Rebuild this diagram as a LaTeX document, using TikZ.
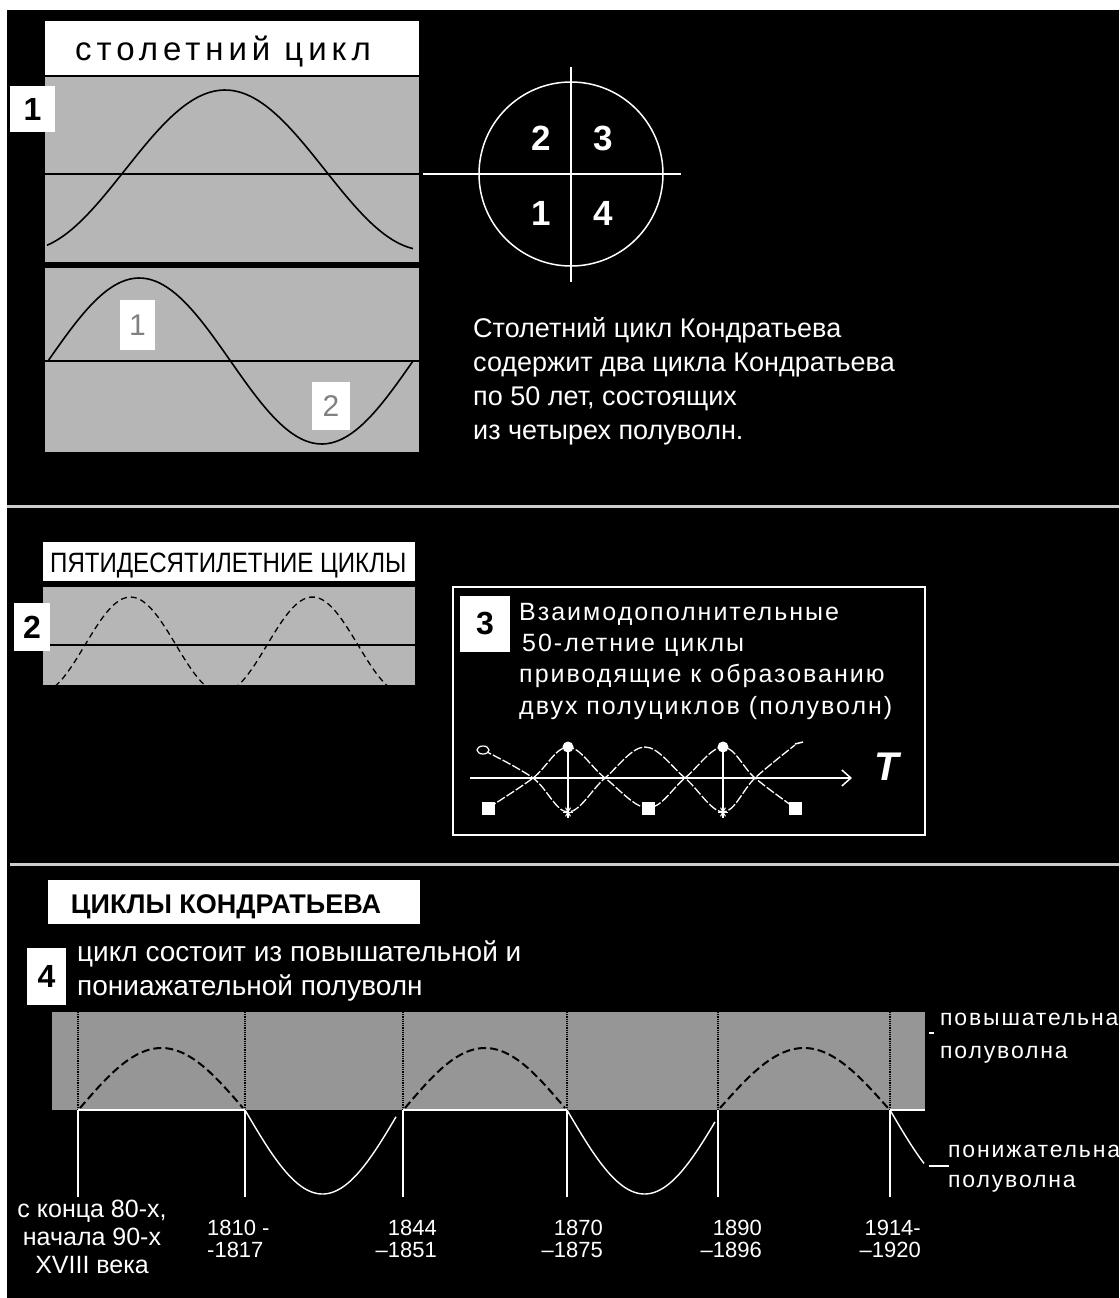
\documentclass[tikz,border=0pt]{standalone}
\usepackage{fontspec}
\setmainfont{Liberation Sans}
\newfontfamily\widefont[LetterSpace=8]{Liberation Sans}
\newfontfamily\spacedfont[LetterSpace=15]{Liberation Sans}
\newfontfamily\narrowfont[FakeStretch=0.86]{Liberation Sans}
\usepackage{tikz}
\usetikzlibrary{arrows.meta}
\definecolor{dotgray}{RGB}{182,182,182}
\definecolor{dotdark}{RGB}{150,150,150}
\definecolor{rulegray}{RGB}{205,205,205}

\begin{document}
\begin{tikzpicture}[x=1pt, y=-1pt,
    whitetxt/.style={text=white, inner sep=0pt},
    numbox/.style={fill=white, text=black, inner sep=0pt, font=\bfseries\fontsize{32}{32}\selectfont},
    hidbox/.style={fill=white, text=gray, inner sep=0pt, font=\fontsize{30}{30}\selectfont},
    wave/.style={black, line width=1.6},
    halfwave/.style={white, line width=1.4}]
    % Background
    \useasboundingbox (0,0) rectangle (1119,1298);
    \fill[white] (0,0) rectangle (1119,1298);
    \fill[black] (7,10) rectangle (1119,1298);

    % Panel 1: hundred-year cycle
    \fill[white] (45,21) rectangle (419,75);
    \node[anchor=base west, inner sep=0pt, font=\spacedfont\fontsize{33}{33}\selectfont] (title1) at (75,60) {столетний цикл};
    \fill[dotgray] (45,77) rectangle (419,262);
    \draw[black, line width=1.5] (45,174) -- (419,174);
    \draw[wave] plot[domain=47:413, samples=90, smooth] (\x, {170-80*cos(0.9*(\x-225))});
    \fill[dotgray] (45,268) rectangle (419,452);
    \draw[black, line width=1.5] (45,361) -- (419,361);
    \draw[wave] plot[domain=48:413, samples=90, smooth] (\x, {361-83*sin(0.9863*(\x-48))});
    \node[hidbox, minimum width=35, minimum height=50] (half1) at (137.5,325) {1};
    \node[hidbox, minimum width=38, minimum height=48] (half2) at (331,406) {2};
    \node[numbox, minimum width=45, minimum height=46] (num1) at (32.5,109) {1};

    % Circle of four half-waves
    \draw[white, line width=1.5] (571,174) circle[radius=92pt];
    \draw[white, line width=1.5] (423,174) -- (681,174);
    \draw[white, line width=1.5] (571,67) -- (571,282);
    \foreach \qx/\qy/\qn in {541/138/2, 603/138/3, 541/213/1, 603/213/4}
      \node[whitetxt, font=\bfseries\fontsize{35}{35}\selectfont] (q\qn) at (\qx,\qy) {\qn};
    \node[whitetxt, anchor=base west, align=left, font=\fontsize{27}{33.7}\selectfont] (desc1) at (473,439)
      {Столетний цикл Кондратьева\\содержит два цикла Кондратьева\\по 50 лет, состоящих\\из четырех полуволн.};

    \draw[rulegray, line width=3] (7,506) -- (1119,506);

    % Panel 2: fifty-year cycles
    \fill[white] (43,542) rectangle (415,581);
    \node[anchor=base west, inner sep=0pt, font=\narrowfont\fontsize{28}{28}\selectfont] (title2) at (50,572) {ПЯТИДЕСЯТИЛЕТНИЕ ЦИКЛЫ};
    \fill[dotgray] (43,587) rectangle (415,685);
    \draw[black, line width=1.5] (50,645) -- (415,645);
    \begin{scope}
      \clip (43,587) rectangle (415,685);
      \draw[black, line width=1.3, dash pattern=on 6pt off 4pt] plot[domain=55:410, samples=90, smooth] (\x, {645-48*sin(1.978*(\x-85))});
    \end{scope}
    \node[numbox, minimum width=36, minimum height=48] (num2) at (32,627) {2};

    % Panel 3: complementary cycles
    \draw[white, line width=1.5] (453,587) rectangle (925,835);
    \node[numbox, minimum width=50, minimum height=56] (num3) at (485,624) {3};
    \node[whitetxt, anchor=base west, align=left, font=\widefont\fontsize{25}{31.3}\selectfont] (desc3) at (519,714)
      {Взаимодополнительные\\\hspace{3pt}50-летние циклы\\приводящие к образованию\\двух полуциклов (полуволн)};
    \draw[white, line width=1.5, -{Straight Barb[length=9pt, width=16pt]}] (470,778) -- (852,778);
    \node[whitetxt, font=\bfseries\itshape\fontsize{40}{40}\selectfont] (tlabel) at (887,767) {T};
    \draw[white, line width=1.5] (568,743) -- (568,818);
    \draw[white, line width=1.5] (723,743) -- (723,818);
    \draw[white, line width=1.3, dash pattern=on 9pt off 2pt] plot[smooth, tension=0.6] coordinates
      {(483,750) (533,778) (568,812) (605,778) (645,747) (685,778) (723,812) (755,778) (795,745)};
    \draw[white, line width=1.3, dash pattern=on 9pt off 2pt] plot[smooth, tension=0.6] coordinates
      {(488,808) (533,778) (568,747) (605,778) (648,808) (685,778) (723,747) (755,778) (795,808)};
    \fill[white] (568,747) circle[radius=5.5pt];
    \fill[white] (723,747) circle[radius=5.5pt];
    \fill[black] (483,750) ellipse[x radius=6pt, y radius=4pt];
    \draw[white, line width=1.2] (483,750) ellipse[x radius=6pt, y radius=4pt];
    \draw[white, line width=1.5] (795,744) -- (803,742);
    \foreach \sx in {488,648,795}
      \fill[white] ({\sx-6.5},801.5) rectangle ++(13,13);
    \foreach \ax in {568,723}
      \foreach \ang in {0,60,120}
        \draw[white, line width=1] (\ax,812) ++(\ang:5) -- ++(\ang+180:10);

    \draw[rulegray, line width=3] (10,864) -- (1119,864);

    % Panel 4: Kondratiev cycles
    \fill[white] (48,880) rectangle (420,924);
    \node[anchor=base, inner sep=0pt, font=\bfseries\fontsize{27}{27}\selectfont] (title4) at (226,913) {ЦИКЛЫ КОНДРАТЬЕВА};
    \node[numbox, minimum width=39, minimum height=57] (num4) at (46.5,976.5) {4};
    \node[whitetxt, anchor=base west, align=left, font=\fontsize{28}{34}\selectfont] (desc4) at (77,995)
      {цикл состоит из повышательной и\\пониажательной полуволн};
    \fill[dotdark] (52,1012) rectangle (925,1110);
    \foreach \vx in {78,245,403,567,718,890} {
      \draw[black, line width=1.2, densely dotted] (\vx,1012) -- (\vx,1110);
      \draw[white, line width=1.5] (\vx,1110) -- (\vx,1197);
    }
    \draw[white, line width=1.5] (78,1110) -- (245,1110);
    \draw[white, line width=1.5] (403,1110) -- (567,1110);
    \draw[white, line width=1.5] (890,1110) -- (925,1110);
    % rising half-waves
    \foreach \ua/\ub in {80/243, 405/565, 720/888}
      \draw[black, line width=2, dash pattern=on 8pt off 4pt] plot[domain=\ua:\ub, samples=60, smooth] (\x, {1108-60*sin(180/(\ub-\ua)*(\x-\ua))});
    % falling half-waves
    \draw[halfwave] plot[domain=245:396, samples=60, smooth] (\x, {1110+84*sin(1.1613*(\x-245))});
    \draw[halfwave] plot[domain=567:715, samples=60, smooth] (\x, {1110+84*sin(1.1613*(\x-567))});
    \draw[halfwave] plot[domain=890:924, samples=20, smooth] (\x, {1110+84*sin(1.1613*(\x-890))});
    \draw[white, line width=1.5] (929,1166) -- (949,1166);
    \draw[white, line width=1.5] (929,1033) -- (934,1033);
    \node[whitetxt, anchor=base west, align=left, font=\widefont\fontsize{23}{33}\selectfont] (uplab) at (940,1058) {повышательна\\полуволна};
    \node[whitetxt, anchor=base west, align=left, font=\widefont\fontsize{23}{30}\selectfont] (downlab) at (948,1187) {понижательна\\полуволна};

    % dates
    \node[whitetxt, anchor=base, align=center, font=\fontsize{25}{28}\selectfont] (d0) at (92,1273) {с конца 80-х,\\начала 90-х\\XVIII века};
    \node[whitetxt, anchor=base west, align=left, font=\fontsize{22}{22}\selectfont] (d1) at (207,1257) {1810 -\\-1817};
    \node[whitetxt, anchor=base east, align=right, font=\fontsize{22}{22}\selectfont] (d2) at (437,1257) {1844\\–1851};
    \node[whitetxt, anchor=base east, align=right, font=\fontsize{22}{22}\selectfont] (d3) at (603,1257) {1870\\–1875};
    \node[whitetxt, anchor=base east, align=right, font=\fontsize{22}{22}\selectfont] (d4) at (762,1257) {1890\\–1896};
    \node[whitetxt, anchor=base east, align=right, font=\fontsize{22}{22}\selectfont] (d5) at (921,1257) {1914-\\–1920};
\end{tikzpicture}
\end{document}
